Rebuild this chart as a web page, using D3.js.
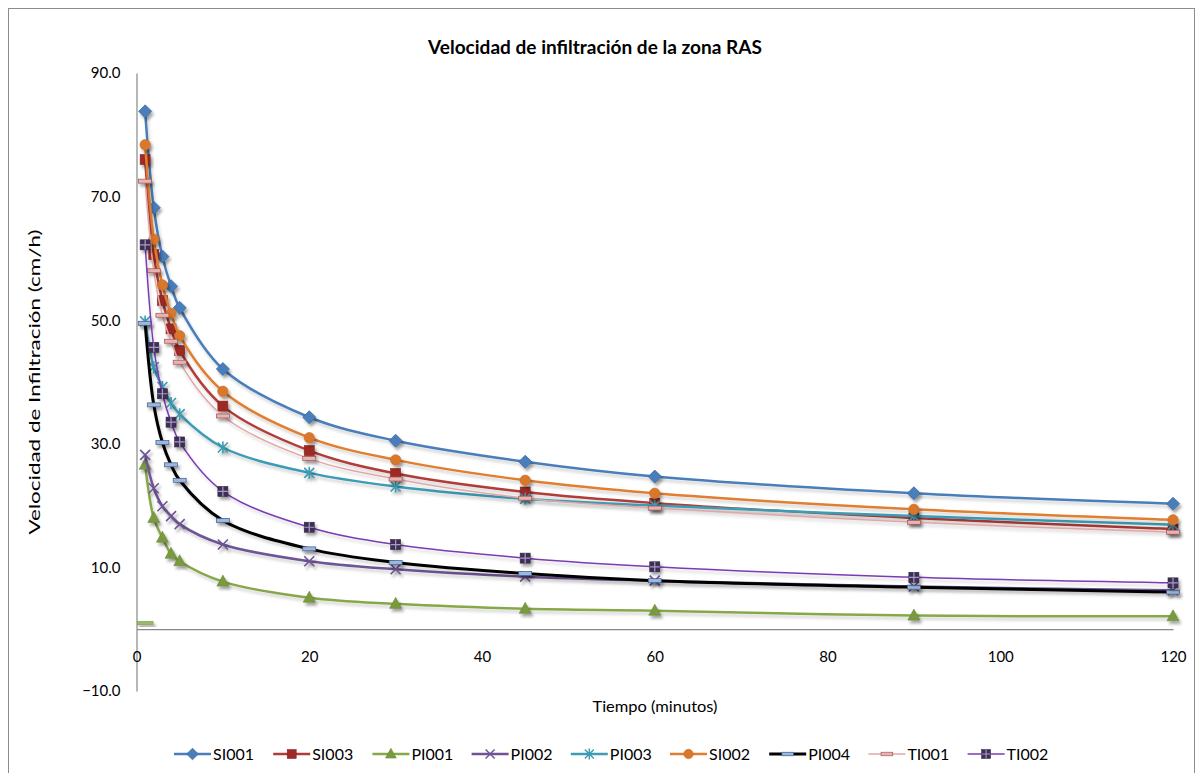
<!DOCTYPE html>
<html>
<head>
<meta charset="utf-8">
<script src="https://cdn.jsdelivr.net/npm/d3@7"></script>
<style>
  html, body { margin: 0; padding: 0; background: #fff; }
  svg { display: block; }
</style>
</head>
<body>
<svg id="chart" width="1203" height="773"></svg>
<script>
// ---------- data ----------
const times = [1, 2, 3, 4, 5, 10, 20, 30, 45, 60, 90, 120];
const seriesNames = ["SI001", "SI003", "PI001", "PI002", "PI003", "SI002", "PI004", "TI001", "TI002"];
const SI001 = [83.8, 68.2, 60.3, 55.5, 52.0, 42.1, 34.3, 30.5, 27.1, 24.7, 22.0, 20.3];
const SI003 = [76.0, 60.6, 53.2, 48.6, 45.1, 36.1, 28.9, 25.2, 22.2, 20.4, 18.0, 16.2];
const PI001 = [26.6, 18.0, 14.8, 12.2, 11.0, 7.7, 5.1, 4.1, 3.3, 3.0, 2.2, 2.1];
const PI002 = [28.2, 22.8, 19.9, 18.3, 17.0, 13.7, 11.0, 9.7, 8.5, 7.85, 6.9, 6.3];
const PI003 = [49.8, 42.4, 39.2, 36.6, 34.8, 29.4, 25.3, 23.1, 21.1, 20.0, 18.3, 16.9];
const SI002 = [78.4, 63.1, 55.7, 51.1, 47.5, 38.5, 31.0, 27.4, 24.1, 22.0, 19.4, 17.7];
const PI004 = [49.5, 36.3, 30.2, 26.6, 24.1, 17.6, 13.0, 10.8, 9.0, 7.85, 6.8, 6.0];
const TI001 = [72.5, 58.0, 50.8, 46.6, 43.2, 34.5, 27.6, 24.3, 21.2, 19.6, 17.3, 15.7];
const TI002 = [62.2, 45.6, 38.1, 33.5, 30.3, 22.3, 16.5, 13.7, 11.5, 10.1, 8.4, 7.5];
const seriesValues = [SI001, SI003, PI001, PI002, PI003, SI002, PI004, TI001, TI002];
// stray PI001 dash near the origin
const extraPoint = [{ t: 1, v: 1.0 }];
const yTicks = [-10, 10, 30, 50, 70, 90];
const xTicks = [0, 20, 40, 60, 80, 100, 120];
const titleText = "Velocidad de infiltración de la zona RAS";
const yTitle = "Velocidad de Infiltración (cm/h)";
const xTitle = "Tiempo (minutos)";

// ---------- styles ----------
const styles = {
  SI001: { line: "#4A7EBB", width: 2.5, marker: "diamond", fill: "#4A7EBB", stroke: "#3A6AA5" },
  SI003: { line: "#B03C38", width: 2.5, marker: "square", fill: "#9E2B28", stroke: "#8A2220" },
  PI001: { line: "#86A84A", width: 2.5, marker: "triangle", fill: "#7A9A40", stroke: "#6A8A35" },
  PI002: { line: "#6E5494", width: 2.5, marker: "x", fill: "none", stroke: "#6E5494" },
  PI003: { line: "#3C9CB4", width: 2.5, marker: "star", fill: "none", stroke: "#3C9CB4" },
  SI002: { line: "#E07E30", width: 2.5, marker: "circle", fill: "#D9782B", stroke: "#C86A20" },
  PI004: { line: "#000000", width: 3, marker: "dashBlue", fill: "#9DB7DE", stroke: "#3B5A8A" },
  TI001: { line: "#E3A6A5", width: 1.5, marker: "dashPink", fill: "#E8B4B3", stroke: "#A0504E" },
  TI002: { line: "#7A3BB5", width: 1.5, marker: "plusSquare", fill: "#3E2F57", stroke: "#3E2F57" }
};

const svg = d3.select("#chart");

const defs = svg.append("defs");
const f = defs.append("filter").attr("id", "shadow").attr("x", "-50%").attr("y", "-50%").attr("width", "200%").attr("height", "200%");
f.append("feDropShadow").attr("dx", 2).attr("dy", 3).attr("stdDeviation", 1.6)
  .attr("flood-color", "#000").attr("flood-opacity", 0.35);
const fl = defs.append("filter").attr("id", "lshadow").attr("x", "-5%").attr("y", "-5%").attr("width", "110%").attr("height", "120%");
fl.append("feDropShadow").attr("dx", 1.5).attr("dy", 3).attr("stdDeviation", 1.5)
  .attr("flood-color", "#000").attr("flood-opacity", 0.18);

// chart frame
svg.append("rect").attr("x", 8.5).attr("y", 8.5).attr("width", 1186).attr("height", 820)
  .attr("fill", "#fff").attr("stroke", "#8c8c8c").attr("stroke-width", 1);

const x = d3.scaleLinear().domain([0, 120]).range([136.5, 1173]);
const y = d3.scaleLinear().domain([-10, 90]).range([691, 73]);

const FONT = "Lato, 'Open Sans', sans-serif";

// title
svg.append("text").attr("x", 595).attr("y", 54).attr("text-anchor", "middle")
  .attr("font-family", FONT).attr("font-weight", "bold").attr("font-size", 18)
  .attr("textLength", 334).attr("lengthAdjust", "spacingAndGlyphs")
  .attr("fill", "#000").text(titleText);

// y axis
const yAxis = svg.append("g").attr("transform", `translate(${x(0)},0)`)
  .call(d3.axisLeft(y).tickValues(yTicks).tickFormat(d3.format(".1f")).tickSize(0).tickSizeOuter(0).tickPadding(16));
yAxis.select(".domain").attr("stroke", "#888").attr("stroke-width", 1.2);
yAxis.selectAll("text").attr("font-family", FONT).attr("font-size", 15).attr("fill", "#000");

// x axis at y = 0
const xAxis = svg.append("g").attr("transform", `translate(0,${y(0)})`)
  .call(d3.axisBottom(x).tickValues(xTicks).tickFormat(d3.format("d")).tickSize(0).tickSizeOuter(0).tickPadding(22));
xAxis.select(".domain").attr("stroke", "#888").attr("stroke-width", 1.2);
xAxis.selectAll("text").attr("font-family", FONT).attr("font-size", 15).attr("fill", "#000");

// axis titles
svg.append("text").attr("transform", `translate(40,${(y(90) + y(-10)) / 2}) rotate(-90)`)
  .attr("text-anchor", "middle").attr("font-family", FONT).attr("font-size", 16)
  .attr("textLength", 305).attr("lengthAdjust", "spacingAndGlyphs")
  .attr("fill", "#000").text(yTitle);
svg.append("text").attr("x", 655).attr("y", 712).attr("text-anchor", "middle")
  .attr("font-family", FONT).attr("font-size", 16)
  .attr("textLength", 125).attr("lengthAdjust", "spacingAndGlyphs")
  .attr("fill", "#000").text(xTitle);

// marker drawer
function drawMarker(g, type, st, cx, cy, scale = 1) {
  const m = g.append("g").attr("transform", `translate(${cx},${cy}) scale(${scale})`);
  switch (type) {
    case "diamond":
      m.append("path").attr("d", "M0,-6.5L6.5,0L0,6.5L-6.5,0Z").attr("fill", st.fill).attr("stroke", st.stroke).attr("stroke-width", 0.8);
      break;
    case "square":
      m.append("rect").attr("x", -5).attr("y", -5).attr("width", 10).attr("height", 10).attr("fill", st.fill).attr("stroke", st.stroke).attr("stroke-width", 0.6);
      break;
    case "triangle":
      m.append("path").attr("d", "M0,-6.5L6,4.5L-6,4.5Z").attr("fill", st.fill).attr("stroke", st.stroke).attr("stroke-width", 0.6);
      break;
    case "x":
      m.append("path").attr("d", "M-5,-5L5,5M-5,5L5,-5").attr("stroke", st.stroke).attr("stroke-width", 1.6).attr("fill", "none");
      break;
    case "star":
      m.append("path").attr("d", "M-5,-5L5,5M-5,5L5,-5M0,-6L0,6").attr("stroke", st.stroke).attr("stroke-width", 1.6).attr("fill", "none");
      break;
    case "circle":
      m.append("circle").attr("r", 5.2).attr("fill", st.fill).attr("stroke", st.stroke).attr("stroke-width", 0.6);
      break;
    case "dashBlue":
    case "dashPink":
      m.append("rect").attr("x", -6.5).attr("y", -2).attr("width", 13).attr("height", 4).attr("fill", st.fill).attr("stroke", st.stroke).attr("stroke-width", 0.7);
      break;
    case "plusSquare":
      m.append("rect").attr("x", -5).attr("y", -5).attr("width", 10).attr("height", 10).attr("fill", st.fill).attr("stroke", "#2E2240").attr("stroke-width", 0.6);
      m.append("path").attr("d", "M0,-5L0,5M-5,0L5,0").attr("stroke", "#A99BC4").attr("stroke-width", 1.2);
      break;
    case "dashGreen":
      m.append("rect").attr("x", -8).attr("y", -1.8).attr("width", 16).attr("height", 3.6).attr("fill", "#9BB76A").attr("stroke", "#7E9A50").attr("stroke-width", 0.5);
      break;
  }
  return m;
}

const line = d3.line().x(d => x(d.t)).y(d => y(d.v)).curve(d3.curveCatmullRom.alpha(0.5));

const plot = svg.append("g");
seriesNames.forEach((name, i) => {
  const st = styles[name];
  const data = times.map((t, k) => ({ t, v: seriesValues[i][k] }));
  const g = plot.append("g").attr("class", "series " + name);
  g.append("path").datum(data).attr("d", line).attr("fill", "none")
    .attr("stroke", st.line).attr("stroke-width", st.width).attr("stroke-linejoin", "round")
    .attr("filter", "url(#lshadow)");
  const mg = g.append("g").attr("filter", "url(#shadow)");
  data.forEach(d => drawMarker(mg, st.marker, st, x(d.t), y(d.v)));
  if (name === "PI001") {
    const eg = g.append("g").attr("filter", "url(#shadow)");
    extraPoint.forEach(d => drawMarker(eg, "dashGreen", st, x(d.t), y(d.v)));
  }
});

// legend
const legend = svg.append("g");
const legX0 = 174, legStep = 99.2, legY = 754;
seriesNames.forEach((name, i) => {
  const st = styles[name];
  const gx = legX0 + i * legStep;
  const g = legend.append("g");
  g.append("line").attr("x1", gx).attr("x2", gx + 37).attr("y1", legY).attr("y2", legY)
    .attr("stroke", st.line).attr("stroke-width", st.width);
  drawMarker(g, st.marker, st, gx + 18.5, legY, 0.9);
  g.append("text").attr("x", gx + 39).attr("y", legY).attr("dy", "0.35em")
    .attr("font-family", FONT).attr("font-size", 16).attr("fill", "#000").text(name);
});
</script>
</body>
</html>
